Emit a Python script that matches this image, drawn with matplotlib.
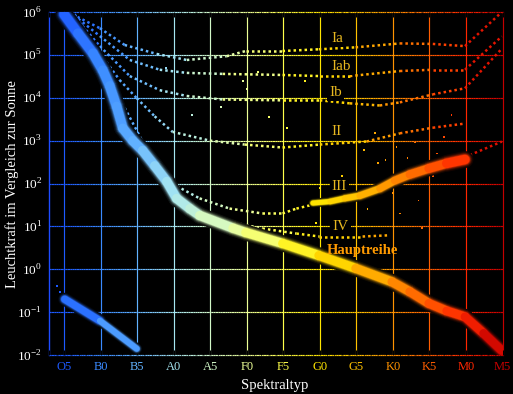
import numpy as np
import matplotlib.pyplot as plt
from matplotlib.collections import LineCollection
from matplotlib.colors import LinearSegmentedColormap
from matplotlib.ticker import NullLocator

plt.rcParams['font.family'] = ['Liberation Serif', 'DejaVu Serif']
plt.rcParams['mathtext.fontset'] = 'custom'
plt.rcParams['mathtext.rm'] = 'Liberation Serif'

# spectral classes on the x axis (0 = O5 ... 12 = M5)
spec_labels = ["O5", "B0", "B5", "A0", "A5", "F0", "F5", "G0", "G5", "K0", "K5", "M0", "M5"]
spec_colors = ["#1e5aff", "#3a8aff", "#62b2ff", "#a6e6f2", "#d2f8c8", "#ecff96", "#ffff4a",
               "#ffe600", "#ffc200", "#ff9200", "#ff5e00", "#ff2600", "#c40000"]

# main sequence (Hauptreihe)
ms_x = [0, 0.38, 0.79, 1.06, 1.25, 1.44, 1.61, 1.88, 2.15, 2.48, 2.81, 3.08, 3.44, 3.71,
        4.62, 4.97, 5.98, 6.97, 7.98, 8.97, 9.46, 9.98, 10.47, 10.97, 11.48, 11.98]
ms_L = [8.9e5, 3.2e5, 1.1e5, 4.4e4, 1.9e4, 6.3e3, 1.95e3, 1.0e3, 590, 260, 112, 45, 26, 18,
        9.1, 7.2, 4.0, 2.1, 1.05, 0.51, 0.30, 0.16, 0.107, 0.078, 0.032, 0.0126]

# giant branch (III)
gi_x = [6.81, 7.28, 7.68, 8.09, 8.64, 9.05, 9.46, 9.98, 10.47, 10.97]
gi_L = [35, 38, 45, 52, 76, 117, 162, 224, 295, 363]

# white dwarfs
wd_x = [0.02, 0.98, 1.99]
wd_L = [0.2, 0.063, 0.014]

# luminosity classes (dotted)
ia_x = [0.1, 0.98, 1.66, 2.54, 3.36, 4.45, 4.97, 5.98, 6.97, 7.98, 9.19, 10.09, 10.97, 11.98]
ia_L = [1.0e6, 4.2e5, 1.7e5, 1.05e5, 7.6e4, 9.3e4, 1.23e5, 1.23e5, 1.35e5, 1.5e5, 1.85e5, 1.8e5, 1.6e5, 1.0e6]
iab_x = [0.16, 0.98, 1.8, 2.62, 3.36, 4.34, 5.98, 7.0, 7.82, 9.19, 10.09, 10.97, 11.98]
iab_L = [1.0e6, 2.75e5, 7.6e4, 4.5e4, 3.8e4, 3.6e4, 3.4e4, 3.2e4, 3.2e4, 4.2e4, 4.5e4, 4.5e4, 2.7e5]
ib_x = [0.21, 0.98, 1.8, 2.62, 3.36, 4.34, 5.98, 7.0, 7.82, 8.64, 9.19, 10.09, 10.97, 11.98]
ib_L = [9.3e5, 1.6e5, 3.2e4, 1.5e4, 1.1e4, 9.1e3, 8.7e3, 8.7e3, 7.4e3, 6.6e3, 7.8e3, 1.2e4, 1.66e4, 1.4e5]
ii_x = [0.29, 0.98, 1.52, 1.99, 2.48, 2.97, 3.99, 4.94, 5.98, 7.0, 8.28, 9.19, 10.09, 10.97]
ii_L = [8.9e5, 1.1e5, 2.6e4, 9.8e3, 3.7e3, 1.6e3, 1.0e3, 810, 690, 810, 955, 1.48e3, 2.0e3, 2.5e3]
iii_x = [1.25, 1.52, 2.15, 2.95, 3.71, 4.53, 5.43, 5.98, 6.36, 6.8]
iii_L = [4.9e4, 9.8e3, 955, 100, 45, 26, 20, 20, 26, 32]
iii_red_x = [11.1, 11.98]
iii_red_L = [460, 950]
iv_x = [2.76, 3.71, 4.53, 5.43, 6.36, 6.99, 8.17, 8.91]
iv_L = [112, 26, 12.9, 8.9, 6.8, 5.8, 5.8, 6.2]

# faint single stars
star_x = [4.9, 5.3, 5.0, 5.6, 6.1, 6.6, 7.3, 7.8, 8.2, 8.5, 8.8, 9.1, 9.4, 9.6, 9.9, 10.2,
          10.4, 7.0, 7.6, 8.0, 8.6, 9.0, 9.3, 9.7, 10.1, 6.9, 7.4, 8.3, 9.2, 9.8, 10.6, 2.8,
          3.5, 4.3, -0.2, -0.1]
star_L = [2.5e4, 4e4, 1.6e4, 3.5e3, 2e3, 2.5e4, 1.2e3, 3e4, 600, 1.5e3, 350, 700, 400, 900,
          250, 500, 1.2e3, 80, 150, 90, 300, 60, 100, 40, 150, 12, 8, 25, 20, 9, 4e3, 5e4,
          4e3, 6e3, 0.4, 0.3]

class_labels = ["Ia", "Iab", "Ib", "II", "III", "IV"]
class_x = [7.48, 7.57, 7.43, 7.46, 7.54, 7.57]
class_L = [2.45e5, 5.4e4, 1.35e4, 1.66e3, 85, 10]

cmap = LinearSegmentedColormap.from_list("spec", spec_colors)
XMIN, XMAX = -0.41, 12.0


def col(x):
    return np.array(cmap(np.clip(x / 12.0, 0, 1)))


def segments(xs, ys):
    pts = list(zip(xs, ys))
    segs = [[pts[i], pts[i + 1]] for i in range(len(pts) - 1)]
    mids = [(xs[i] + xs[i + 1]) / 2 for i in range(len(xs) - 1)]
    return segs, mids


def glow(ax, xs, ys, w0, w1, z):
    segs, mids = segments(xs, ys)
    widths = np.linspace(w0, w1, len(segs))
    base = np.array([col(m) for m in mids])
    for scale, inten in [(1.8, 0.08), (1.55, 0.2), (1.35, 0.42), (1.15, 0.72), (1.0, 1.0)]:
        c = base.copy()
        c[:, :3] *= inten
        lc = LineCollection(segs, colors=c, linewidths=widths * scale,
                            capstyle='round', joinstyle='round', zorder=z)
        ax.add_collection(lc)


def dotted(ax, xs, ys):
    segs, mids = segments(xs, ys)
    lc = LineCollection(segs, colors=[col(m) for m in mids], linewidths=1.8,
                        linestyles=[(0, (1, 1.2))], capstyle='butt', zorder=3)
    ax.add_collection(lc)


fig = plt.figure(figsize=(5.13, 3.94), dpi=100, facecolor='black')
ax = fig.add_axes([49 / 513, 1 - 355 / 394, 453.6 / 513, 343 / 394])
ax.set_facecolor('black')
ax.set_yscale('log')
ax.set_xlim(XMIN, XMAX)
ax.set_ylim(1e-2, 1e6)

# coloured grid
gx = np.linspace(XMIN, XMAX, 200)
for k in range(-2, 7):
    segs = [[(gx[i], 10.0 ** k), (gx[i + 1], 10.0 ** k)] for i in range(len(gx) - 1)]
    cols = [col((gx[i] + gx[i + 1]) / 2) for i in range(len(gx) - 1)]
    ax.add_collection(LineCollection(segs, colors=cols, linewidths=0.85, zorder=1, clip_on=False))
for i in range(len(spec_labels)):
    ax.axvline(i, color=spec_colors[i], lw=0.85, zorder=1, clip_on=False)

for s in ax.spines.values():
    s.set_visible(False)
ax.axvline(XMIN, color="#1e4cff", lw=1.0, zorder=1, clip_on=False)

# stars and branches
ax.scatter(star_x, star_L, s=1.5, marker='s', c=[col(x) for x in star_x], lw=0, zorder=2)
dotted(ax, ia_x, ia_L)
dotted(ax, iab_x, iab_L)
dotted(ax, ib_x, ib_L)
dotted(ax, ii_x, ii_L)
dotted(ax, iii_x, iii_L)
dotted(ax, iii_red_x, iii_red_L)
dotted(ax, iv_x, iv_L)

glow(ax, ms_x, ms_L, 7.0, 6.2, 5)
glow(ax, gi_x, gi_L, 3.5, 6.8, 5)
glow(ax, wd_x, wd_L, 5.2, 4.3, 5)

for t, x, y in zip(class_labels, class_x, class_L):
    ax.text(x, y, t, color='#e8b820', fontsize=11, ha='center', va='center', zorder=4,
            bbox=dict(facecolor='black', edgecolor='none', pad=1.5))
ax.text(8.16, 2.75, "Hauptreihe", color='#ff9a00', fontsize=10.5, fontweight='bold',
        ha='center', va='center', zorder=6)

# ticks
ax.set_xticks(range(len(spec_labels)))
ax.set_xticklabels(spec_labels)
ax.set_xticks(np.arange(-2, 61) * 0.2, minor=True)
ax.tick_params(axis='x', which='both', direction='in', top=True, bottom=True,
               length=3.5, width=0.9, pad=4, labelsize=9)
for i, lab in enumerate(ax.get_xticklabels()):
    lab.set_color(spec_colors[i])
for i, t in enumerate(ax.xaxis.get_major_ticks()):
    t.tick1line.set_color(spec_colors[i])
    t.tick2line.set_color(spec_colors[i])
mlocs = ax.xaxis.get_minorticklocs()
for loc, t in zip(mlocs, ax.xaxis.get_minor_ticks()):
    t.tick1line.set_color(col(loc))
    t.tick2line.set_color(col(loc))

ax.set_yticks([10.0 ** k for k in range(-2, 7)])
ax.set_yticklabels(["$10^{%d}$" % k for k in range(-2, 7)])
ax.yaxis.set_minor_locator(NullLocator())
ax.tick_params(axis='y', length=0, pad=5, labelsize=9.5, labelcolor='white')

fig.text(12 / 513, 1 - 184 / 394, "Leuchtkraft im Vergleich zur Sonne", color='white',
         fontsize=10.5, rotation=90, ha='center', va='center')
fig.text(275 / 513, 1 - 385 / 394, "Spektraltyp", color='white', fontsize=10.5,
         ha='center', va='center')

fig.savefig("out.png", dpi=100, facecolor='black')
